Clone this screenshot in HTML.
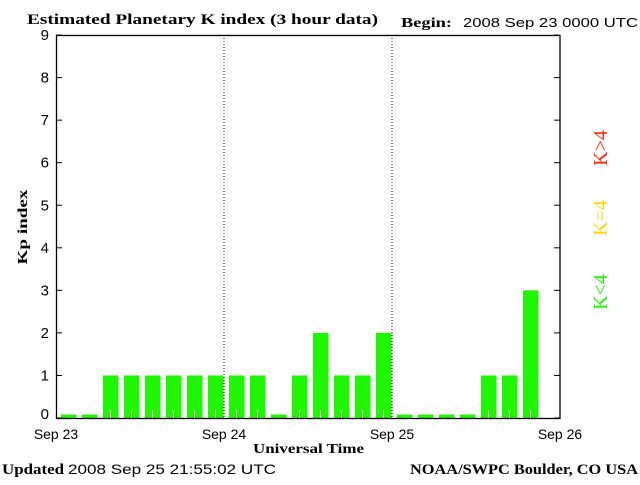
<!DOCTYPE html>
<html><head><style>
body{margin:0;background:#fff;}
</style></head><body>
<svg width="640" height="480" xmlns="http://www.w3.org/2000/svg">
<rect width="640" height="480" fill="#fff"/>
<text x="27" y="24" font-family="Liberation Serif, serif" font-weight="bold" font-size="15" textLength="351" lengthAdjust="spacingAndGlyphs">Estimated Planetary K index (3 hour data)</text>
<text x="401" y="27" font-family="Liberation Serif, serif" font-weight="bold" font-size="14" textLength="51" lengthAdjust="spacingAndGlyphs">Begin:</text>
<text x="463" y="27" font-family="Liberation Sans, sans-serif" font-size="13" textLength="175" lengthAdjust="spacingAndGlyphs">2008 Sep 23 0000 UTC</text>
<g fill="#1ef700" id="bars"></g>
<line x1="224" y1="35" x2="224" y2="418" stroke="#000" stroke-dasharray="1,2"/>
<line x1="392" y1="35" x2="392" y2="418" stroke="#000" stroke-dasharray="1,2"/>
<rect x="56.5" y="35.5" width="503.5" height="383" fill="none" stroke="#000" stroke-width="1.3"/>
<g stroke="#000" id="ticks"></g>
<g font-family="Liberation Sans, sans-serif" font-size="15" text-anchor="end" id="yl"></g>
<g font-family="Liberation Sans, sans-serif" font-size="14" text-anchor="middle">
<text x="56" y="439">Sep 23</text><text x="224" y="439">Sep 24</text><text x="392" y="439">Sep 25</text><text x="560" y="439">Sep 26</text>
</g>
<text x="253" y="453" font-family="Liberation Serif, serif" font-weight="bold" font-size="14" textLength="111" lengthAdjust="spacingAndGlyphs">Universal Time</text>
<text transform="translate(27,227) rotate(-90)" text-anchor="middle" font-family="Liberation Serif, serif" font-weight="bold" font-size="14" textLength="75" lengthAdjust="spacingAndGlyphs">Kp index</text>
<text x="2" y="474" font-family="Liberation Serif, serif" font-weight="bold" font-size="15" textLength="62" lengthAdjust="spacingAndGlyphs">Updated</text>
<text x="68" y="474" font-family="Liberation Sans, sans-serif" font-size="14" textLength="208" lengthAdjust="spacingAndGlyphs">2008 Sep 25 21:55:02 UTC</text>
<text x="410" y="474" font-family="Liberation Serif, serif" font-weight="bold" font-size="15" textLength="228" lengthAdjust="spacingAndGlyphs">NOAA/SWPC Boulder, CO USA</text>
<g font-family="Liberation Serif, serif" font-size="20" text-anchor="middle">
<text transform="translate(607,148) rotate(-90)" fill="#ff2a00">K&gt;4</text>
<text transform="translate(607,218) rotate(-90)" fill="#ffd800">K=4</text>
<text transform="translate(607,292) rotate(-90)" fill="#1ef700">K&lt;4</text>
</g>
</svg>
<script>
var v=[0,0,1,1,1,1,1,1,1,1,0,1,2,1,1,2,0,0,0,0,1,1,3];
var b=document.getElementById('bars'),s='';
var u=42.55;
for(var i=0;i<v.length;i++){var x=56+i*21+5;var h=v[i]==0?3.5:v[i]*u;
s+='<rect x="'+x+'" y="'+(418-h)+'" width="15.5" height="'+h+'"/>';
if(v[i]>0)s+='<rect x="'+(x+7)+'" y="410" width="1" height="8" fill="#fff"/>';}
b.innerHTML=s;
var t=document.getElementById('ticks'),ts='',yl=document.getElementById('yl'),ys='';
for(var k=0;k<=9;k++){var y=418-k*u;ts+='<line x1="56" y1="'+y+'" x2="62" y2="'+y+'"/><line x1="554" y1="'+y+'" x2="560" y2="'+y+'"/>';
ys+='<text x="49" y="'+(y+5-(k==0?4:0))+'">'+k+'</text>';}
t.innerHTML=ts;yl.innerHTML=ys;
</script>
</body></html>
